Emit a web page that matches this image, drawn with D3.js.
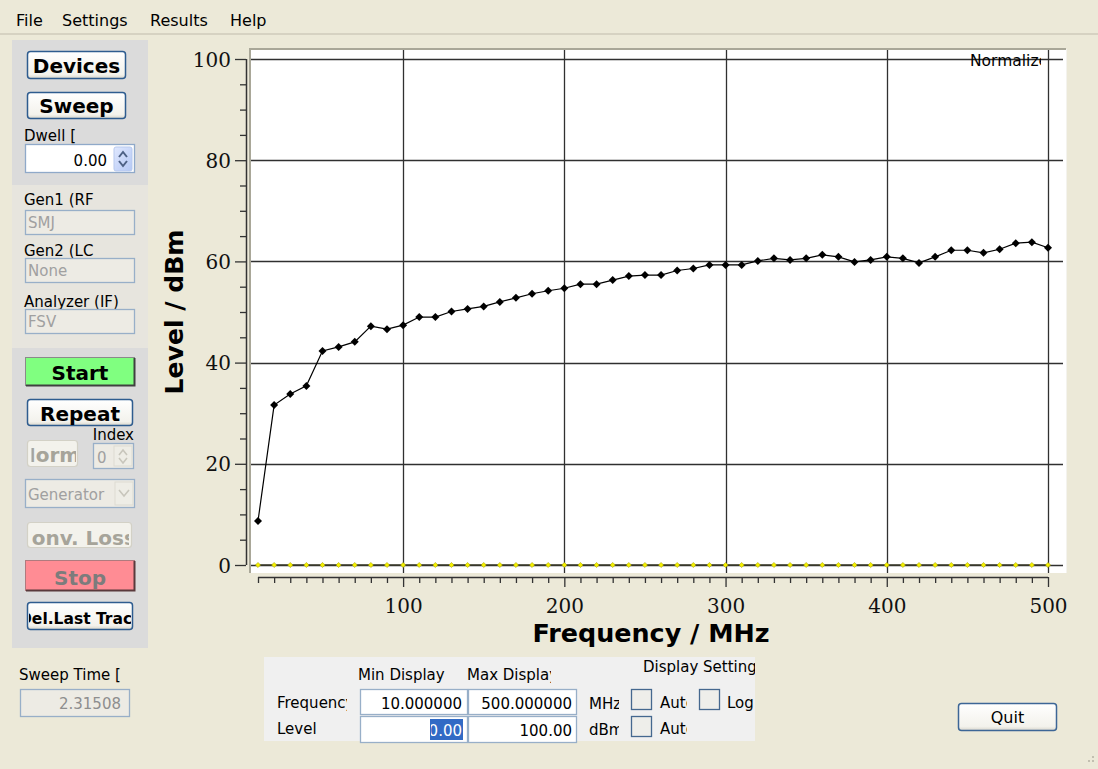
<!DOCTYPE html>
<html><head><meta charset="utf-8">
<script src="https://cdn.jsdelivr.net/npm/d3@7"></script>
<style>
html,body{margin:0;padding:0;background:#ECE9D8;overflow:hidden}
svg{display:block}
text{font-family:"DejaVu Sans",sans-serif}
text.serif{font-family:"DejaVu Serif",serif}
</style></head><body>
<svg id="c" width="1098" height="769"></svg>
<script>
// ---------- data ----------
const frequencies = [10,20,30,40,50,60,70,80,90,100,110,120,130,140,150,160,170,180,190,200,
  210,220,230,240,250,260,270,280,290,300,310,320,330,340,350,360,370,380,390,400,
  410,420,430,440,450,460,470,480,490,500];
const levels = [8.7,31.6,33.8,35.4,42.3,43.1,44.1,47.2,46.6,47.4,
  49.0,49.0,50.1,50.6,51.1,52.0,52.8,53.6,54.2,54.7,
  55.5,55.5,56.3,57.1,57.3,57.3,58.2,58.6,59.3,59.3,
  59.3,60.1,60.6,60.3,60.6,61.3,60.9,59.9,60.3,60.9,
  60.6,59.7,60.9,62.2,62.2,61.7,62.4,63.6,63.8,62.7];
const referenceLevels = [0,0,0,0,0,0,0,0,0,0,0,0,0,0,0,0,0,0,0,0,0,0,0,0,0,
  0,0,0,0,0,0,0,0,0,0,0,0,0,0,0,0,0,0,0,0,0,0,0,0,0];
const xTickLabels = [100,200,300,400,500];
const yTickLabels = [0,20,40,60,80,100];
const xMinorTicks = frequencies;
const yMinorTicks = [0,5,10,15,20,25,30,35,40,45,50,55,60,65,70,75,80,85,90,95,100];
const menuItems = ["File","Settings","Results","Help"];
const xTitle = "Frequency / MHz";
const yTitle = "Level / dBm";

const svg = d3.select("#c");
const defs = svg.append("defs");
let clipId = 0;
function clipRect(x,y,w,h){
  const id = "clip"+(clipId++);
  defs.append("clipPath").attr("id",id).append("rect").attr("x",x).attr("y",y).attr("width",w).attr("height",h);
  return "url(#"+id+")";
}
const g1 = defs.append("linearGradient").attr("id","btnGrad").attr("x1",0).attr("y1",0).attr("x2",0).attr("y2",1);
g1.append("stop").attr("offset","0%").attr("stop-color","#FFFFFF");
g1.append("stop").attr("offset","85%").attr("stop-color","#F3F2EC");
g1.append("stop").attr("offset","100%").attr("stop-color","#D8D6CB");
const g2 = defs.append("linearGradient").attr("id","spinGrad").attr("x1",0).attr("y1",0).attr("x2",1).attr("y2",1);
g2.append("stop").attr("offset","0%").attr("stop-color","#E0E8FE");
g2.append("stop").attr("offset","100%").attr("stop-color","#B4C8F5");

svg.append("rect").attr("width",1098).attr("height",769).attr("fill","#ECE9D8");

// ---------- menu ----------
const menuX = [16,62,150,230];
svg.selectAll("text.menu").data(menuItems).join("text").attr("class","menu")
  .attr("x",(d,i)=>menuX[i]).attr("y",26).attr("font-size",16).attr("fill","#000").text(d=>d);
svg.append("rect").attr("x",0).attr("y",33).attr("width",1098).attr("height",2).attr("fill","#D6D2C2");

// ---------- left panel ----------
svg.append("rect").attr("x",12).attr("y",40).attr("width",136).attr("height",608).attr("fill","#DBDBDB");
svg.append("rect").attr("x",12).attr("y",185).attr("width",136).attr("height",163).attr("fill","#E7E5DE");

function button(x,y,w,h,label,o={}){
  const g = svg.append("g");
  g.append("rect").attr("x",x+0.5).attr("y",y+0.5).attr("width",w-1).attr("height",h-1).attr("rx",o.rx??3)
    .attr("fill",o.fill||"url(#btnGrad)").attr("stroke",o.stroke||"#2E5C8F").attr("stroke-width",o.sw||1.5);
  if(o.shadow){
    g.append("path").attr("d",`M${x+1},${y+h-0.5}H${x+w-0.5}V${y+1}`).attr("fill","none").attr("stroke",o.shadow).attr("stroke-width",2);
  }
  const t = g.append("text").attr("font-size",o.fs||20).attr("font-weight",o.fw||"bold").attr("fill",o.color||"#000").text(label);
  if(o.tx!==undefined){ t.attr("x",o.tx).attr("y",o.ty); }
  else { t.attr("x",x+w/2).attr("y",o.ty).attr("text-anchor","middle"); }
  if(o.clip) t.attr("clip-path",clipRect(o.clip[0],y,o.clip[1]-o.clip[0],h));
  return g;
}
function input(x,y,w,h,o={}){
  svg.append("rect").attr("x",x+0.5).attr("y",y+0.5).attr("width",w-1).attr("height",h-1)
    .attr("fill",o.fill||"#EDEBE4").attr("stroke",o.stroke||"#98AFC8").attr("stroke-width",1.3);
}
function label(x,y,txt,o={}){
  const t = svg.append("text").attr("x",x).attr("y",y).attr("font-size",o.fs||15).attr("fill",o.color||"#000")
    .attr("text-anchor",o.anchor||"start").attr("font-weight",o.fw||"normal").text(txt);
  if(o.clip) t.attr("clip-path",clipRect(o.clip[0],o.clip[1],o.clip[2],o.clip[3]));
  return t;
}

button(27,51,99,28,"Devices",{ty:73});
button(27,92,99,27,"Sweep",{ty:113});
label(24,141,"Dwell [");
input(25,144,110,29,{fill:"#FFFFFF",stroke:"#8FA9C9"});
label(107,166,"0.00",{anchor:"end"});
svg.append("rect").attr("x",114).attr("y",147).attr("width",18).attr("height",24).attr("rx",2).attr("fill","url(#spinGrad)").attr("stroke","#B7C9EE");
svg.append("path").attr("d","M119,157 L123,152 L127,157").attr("fill","none").attr("stroke","#4D6185").attr("stroke-width",2);
svg.append("path").attr("d","M119,161 L123,166 L127,161").attr("fill","none").attr("stroke","#4D6185").attr("stroke-width",2);

label(24,205,"Gen1 (RF",{clip:[12,185,122,30]});
input(25,210,110,25);
label(28,228,"SMJ",{color:"#A0A0A0"});
label(24,256,"Gen2 (LC",{clip:[12,236,122,30]});
input(25,258,110,25);
label(28,276,"None",{color:"#A0A0A0"});
label(24,307,"Analyzer (IF)",{clip:[12,286,122,30]});
input(25,309,110,25);
label(28,327,"FSV",{color:"#A0A0A0"});

button(25,357,110,29,"Start",{fill:"#80FF80",stroke:"#8A8A8A",sw:1,rx:0,shadow:"#404040",ty:380});
button(27,399,106,27,"Repeat",{ty:421});
label(134,440,"Index",{anchor:"end"});
button(27,440,51,27,"Norm",{fill:"#F3F2EC",stroke:"#D3D1C6",sw:1.2,color:"#A6A49A",tx:19,ty:462,clip:[31.5,76]});
input(93,443,41,26,{fill:"#EDEBE4",stroke:"#98AFC8"});
label(97,463,"0",{color:"#A0A0A0"});
svg.append("rect").attr("x",114).attr("y",446).attr("width",18).attr("height",20).attr("fill","#EEEDE6").attr("stroke","#DDDBD2");
svg.append("path").attr("d","M119,455 L123,450 L127,455").attr("fill","none").attr("stroke","#C8C6BC").attr("stroke-width",1.6);
svg.append("path").attr("d","M119,458 L123,463 L127,458").attr("fill","none").attr("stroke","#C8C6BC").attr("stroke-width",1.6);

input(25,479,110,29);
label(28,500,"Generator",{color:"#A0A0A0"});
svg.append("rect").attr("x",115).attr("y",482).attr("width",18).attr("height",23).attr("fill","#EEEDE6").attr("stroke","#DDDBD2");
svg.append("path").attr("d","M119,490 L124,496 L129,490").attr("fill","none").attr("stroke","#C8C6BC").attr("stroke-width",1.6);

button(27,522,105,26,"Conv. Loss",{fill:"#F3F2EC",stroke:"#D3D1C6",sw:1.2,color:"#A6A49A",tx:17,ty:545,clip:[31.5,129]});
button(25,560,110,31,"Stop",{fill:"#FF8C94",stroke:"#B07A7E",sw:1,rx:0,shadow:"#5A3A3C",color:"#7C7C7C",ty:585});
button(27,602,106,28,"Del.Last Trace",{fs:15.5,tx:19,ty:624,clip:[29,131]});

label(19,680,"Sweep Time [");
input(20,689,110,28);
label(121,709,"2.31508",{anchor:"end",color:"#8E8E8E"});

// ---------- bottom panel ----------
svg.append("rect").attr("x",264).attr("y",657).attr("width",491).attr("height",84).attr("fill","#F0F0F0");
label(358,680,"Min Display",{clip:[350,660,95,30]});
label(467,680,"Max Display",{clip:[460,660,91,30]});
label(643,672,"Display Settings",{clip:[630,655,125,30]});
label(277,708,"Frequency",{clip:[270,690,77,30]});
label(277,734,"Level");
input(360,689,108,26,{fill:"#FFFFFF",stroke:"#98AFC8"});
input(468,689,109,26,{fill:"#FFFFFF",stroke:"#98AFC8"});
input(360,716,108,27,{fill:"#FFFFFF",stroke:"#98AFC8"});
input(468,716,109,27,{fill:"#FFFFFF",stroke:"#98AFC8"});
label(462,709,"10.000000",{anchor:"end"});
label(572,709,"500.000000",{anchor:"end"});
svg.append("rect").attr("x",430).attr("y",719).attr("width",33).attr("height",21).attr("fill","#316AC5");
label(462,736,"0.00",{anchor:"end",color:"#FFFFFF",clip:[431,715,40,28]});
label(572,736,"100.00",{anchor:"end"});
label(589,709,"MHz",{clip:[585,690,34,26]});
label(589,735,"dBm",{clip:[585,716,34,26]});
function checkbox(x,y){
  svg.append("rect").attr("x",x+0.5).attr("y",y+0.5).attr("width",20).attr("height",20).attr("fill","#EEEEEA").attr("stroke","#45688F").attr("stroke-width",1.3);
}
checkbox(631,689); label(660,708,"Auto",{clip:[655,690,32,26]});
checkbox(699,689); label(727,708,"Log",{clip:[722,690,33,26]});
checkbox(631,716); label(660,734,"Auto",{clip:[655,716,32,26]});

button(958,703,99,28,"Quit",{fs:16,fw:"normal",ty:723,stroke:"#3C6696",sw:1.5});

// resize grip dots
[[1088,760],[1092,760],[1092,756]].forEach(p=>svg.append("rect").attr("x",p[0]).attr("y",p[1]).attr("width",2).attr("height",2).attr("fill","#C2BFB0"));

// ---------- chart ----------
const x = d3.scaleLinear().domain([10,500]).range([258,1048]);
const y = d3.scaleLinear().domain([0,100]).range([565,59]);
const plot = {left:250, top:49, right:1066, bottom:573};

svg.append("rect").attr("x",plot.left).attr("y",plot.top).attr("width",plot.right-plot.left).attr("height",plot.bottom-plot.top).attr("fill","#FFFFFF");
svg.append("path").attr("d",`M${plot.left},${plot.bottom}V${plot.top}H${plot.right}`).attr("fill","none").attr("stroke","#A9A798").attr("stroke-width",2);
svg.append("path").attr("d",`M${plot.right+0.5},${plot.top}V${plot.bottom}`).attr("fill","none").attr("stroke","#F4F3EE").attr("stroke-width",1);

// grid
svg.append("g").selectAll("line").data(yTickLabels).join("line")
  .attr("x1",plot.left+1).attr("x2",1063).attr("y1",d=>Math.round(y(d))+0.5).attr("y2",d=>Math.round(y(d))+0.5)
  .attr("stroke","#303030").attr("stroke-width",1.3);
svg.append("g").selectAll("line").data(xTickLabels).join("line")
  .attr("y1",plot.top+1).attr("y2",plot.bottom).attr("x1",d=>Math.round(x(d))+0.5).attr("x2",d=>Math.round(x(d))+0.5)
  .attr("stroke","#303030").attr("stroke-width",1.3);

// normalized label
label(970,66,"Normalized",{fs:15.5,clip:[960,50,81,22]});

// axes
const xAxis = svg.append("g").attr("transform","translate(0,577)")
  .call(d3.axisBottom(x).tickValues(xMinorTicks).tickSize(6).tickFormat(d=>xTickLabels.includes(d)?d:""));
xAxis.selectAll(".tick line").attr("y2",d=>xTickLabels.includes(d)?10:6);
xAxis.select(".domain").attr("d","M258,0.5H1048").attr("stroke","#333").attr("stroke-width",1.5);
xAxis.selectAll(".tick line").attr("stroke","#333").attr("stroke-width",1.3);
xAxis.selectAll("text").attr("class","serif").attr("font-size",20).attr("fill","#111").attr("y",null).attr("dy",null).attr("transform","translate(0,36)");

const yAxis = svg.append("g").attr("transform","translate(246,0)")
  .call(d3.axisLeft(y).tickValues(yMinorTicks).tickSize(6).tickFormat(d=>yTickLabels.includes(d)?d:""));
yAxis.selectAll(".tick line").attr("x2",d=>yTickLabels.includes(d)?-11:-6).attr("stroke","#333").attr("stroke-width",1.3);
yAxis.select(".domain").attr("d","M0.5,59V565").attr("stroke","#333").attr("stroke-width",1.5);
yAxis.selectAll("text").attr("class","serif").attr("font-size",20).attr("fill","#111").attr("x",-15).attr("dy","0.35em");

// titles
svg.append("text").attr("x",651).attr("y",642).attr("text-anchor","middle").attr("font-weight","bold")
  .attr("font-size",24).attr("textLength",237).attr("lengthAdjust","spacingAndGlyphs").text(xTitle);
svg.append("text").attr("transform","translate(183,312) rotate(-90)").attr("text-anchor","middle").attr("font-weight","bold")
  .attr("font-size",25).attr("textLength",165).attr("lengthAdjust","spacingAndGlyphs").text(yTitle);

// reference series (yellow at 0)
const line = d3.line().x((d,i)=>x(frequencies[i])).y(d=>y(d));
svg.append("path").datum(referenceLevels).attr("d",line).attr("fill","none").attr("stroke","#3A3A2A").attr("stroke-width",1.3);
svg.append("g").selectAll("path").data(referenceLevels).join("path")
  .attr("d",(d,i)=>{const cx=x(frequencies[i]),cy=y(d);return `M${cx},${cy-2.6}L${cx+2.6},${cy}L${cx},${cy+2.6}L${cx-2.6},${cy}Z`;})
  .attr("fill","#F4F000").attr("stroke","#9A9600").attr("stroke-width",0.5);

// measured series
svg.append("path").datum(levels).attr("d",line).attr("fill","none").attr("stroke","#000").attr("stroke-width",1.2);
svg.append("g").selectAll("path").data(levels).join("path")
  .attr("d",(d,i)=>{const cx=x(frequencies[i]),cy=y(d),r=4;return `M${cx},${cy-r}L${cx+r},${cy}L${cx},${cy+r}L${cx-r},${cy}Z`;})
  .attr("fill","#000");
</script>
</body></html>
